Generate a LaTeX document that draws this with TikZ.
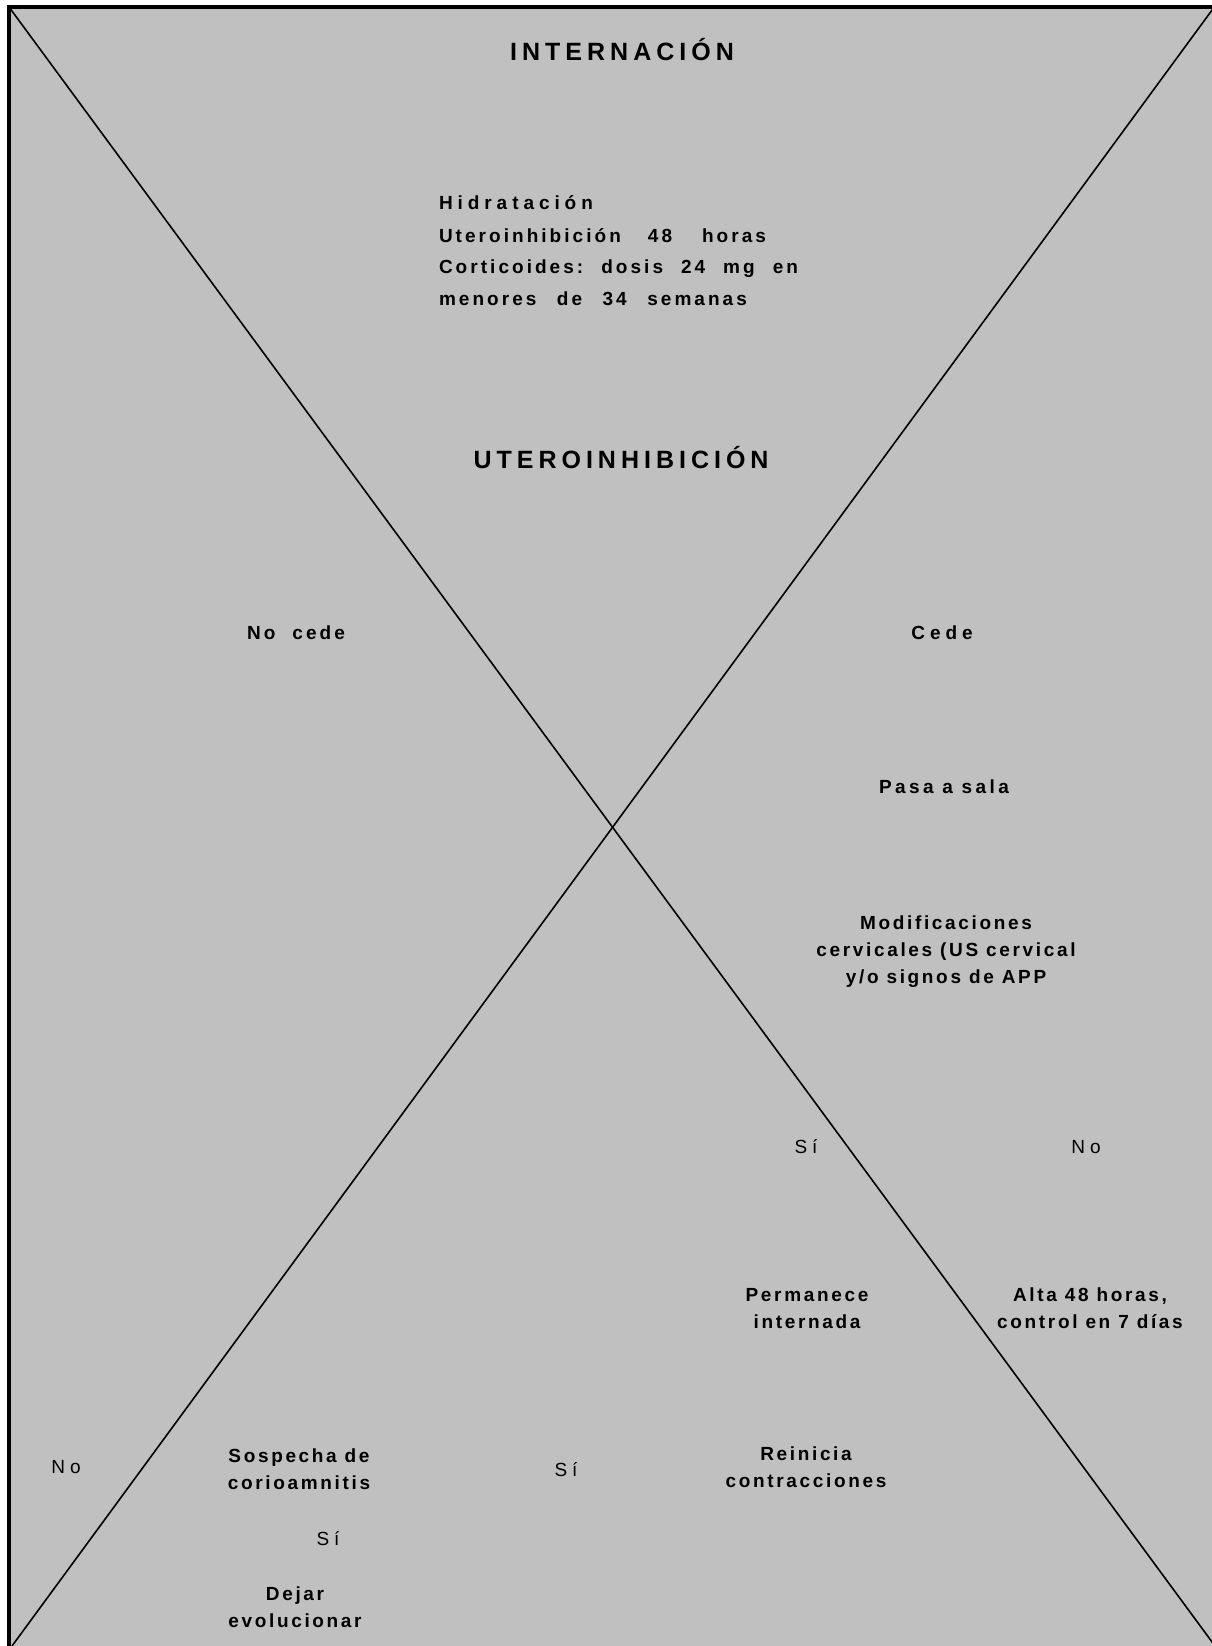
\documentclass[tikz,border=0pt]{standalone}
\usepackage{fontspec}
\setmainfont{Liberation Sans}
\newfontfamily\widefont{Liberation Sans}[LetterSpace=26]
\newfontfamily\midfont{Liberation Sans}[LetterSpace=18]
\newfontfamily\parafont{Liberation Sans}[LetterSpace=16]
\newfontfamily\narrowfont{Liberation Sans}[LetterSpace=14]
\newfontfamily\headfont{Liberation Sans}[LetterSpace=20]
\newcommand{\wgap}[1]{\hspace{#1pt}}
\definecolor{bggray}{HTML}{C0C0C0}
\tikzset{
  lbl/.style={inner sep=0pt, outer sep=0pt, text=black},
  head/.style={lbl, anchor=base, font=\headfont\bfseries\fontsize{25}{30}\selectfont},
  wide/.style={lbl, font=\widefont\bfseries\fontsize{19}{28}\selectfont},
  mid/.style={lbl, anchor=base, font=\midfont\bfseries\fontsize{19}{28}\selectfont},
  plain/.style={lbl, anchor=base, font=\widefont\fontsize{19}{28}\selectfont},
  blk/.style={lbl, align=center, font=\narrowfont\bfseries\fontsize{19}{27}\selectfont},
  para/.style={lbl, anchor=base west, font=\parafont\bfseries\fontsize{19}{28}\selectfont},
  diag/.style={line width=1.6pt, black},
  frame/.style={line width=3.5pt, black, line cap=rect}
}
\begin{document}
\begin{tikzpicture}[x=1pt,y=-1pt]
\useasboundingbox (0,0) rectangle (1211,1646);
\fill[white] (-10,-10) rectangle (1240,1670);
\coordinate (tl) at (9,7);
\coordinate (trf) at (1240,7);
\coordinate (blf) at (9,1670);
\coordinate (brf) at (1240,1670);
\fill[bggray] (tl) rectangle (brf);
\draw[frame] (blf) -- (tl) -- (trf);
\coordinate (d1a) at (9,7);
\coordinate (d1b) at (1215,1646);
\coordinate (d2a) at (1215,6);
\coordinate (d2b) at (12,1646);
\draw[diag] (d1a) -- (d1b);
\draw[diag] (d2a) -- (d2b);

\node[head] (intern) at (622,60) {INTERNACIÓN};
\node[para, font=\widefont\bfseries\fontsize{19}{28}\selectfont] (p1) at (439,209) {Hidratación};
\node[para] (p2) at (439,242) {Uteroinhibición\wgap{27}48\wgap{30}horas};
\node[para] (p3) at (439,273) {Corticoides:\wgap{18}dosis\wgap{18}24\wgap{18}mg\wgap{18}en};
\node[para] (p4) at (439,305) {menores\wgap{20.5}de\wgap{20.5}34\wgap{20.5}semanas};
\node[head] (utero) at (621,468) {UTEROINHIBICIÓN};

\node[para, anchor=base] (nocede) at (296,639) {No\wgap{17}cede};
\node[wide, anchor=base] (cede) at (942,639) {Cede};
\node[mid] (pasa) at (944,793) {Pasa a sala};
\node[blk] (modif) at (946,952) {Modificaciones\\cervicales (US cervical\\y/o signos de APP};

\node[plain] (si1) at (806,1153) {Sí};
\node[plain] (no1) at (1086,1153) {No};
\node[blk] (perm) at (807,1309) {Permanece\\internada};
\node[blk] (alta) at (1090,1308) {Alta 48 horas,\\control en 7 días};
\node[blk] (reinicia) at (806,1467) {Reinicia\\contracciones};
\node[plain] (si2) at (566,1476) {Sí};
\node[plain] (no2) at (66,1473) {No};
\node[blk] (sosp) at (299,1469) {Sospecha de\\corioamnitis};
\node[plain] (si3) at (328,1545) {Sí};
\node[blk] (dejar) at (295,1607) {Dejar\\evolucionar};
\end{tikzpicture}
\end{document}
